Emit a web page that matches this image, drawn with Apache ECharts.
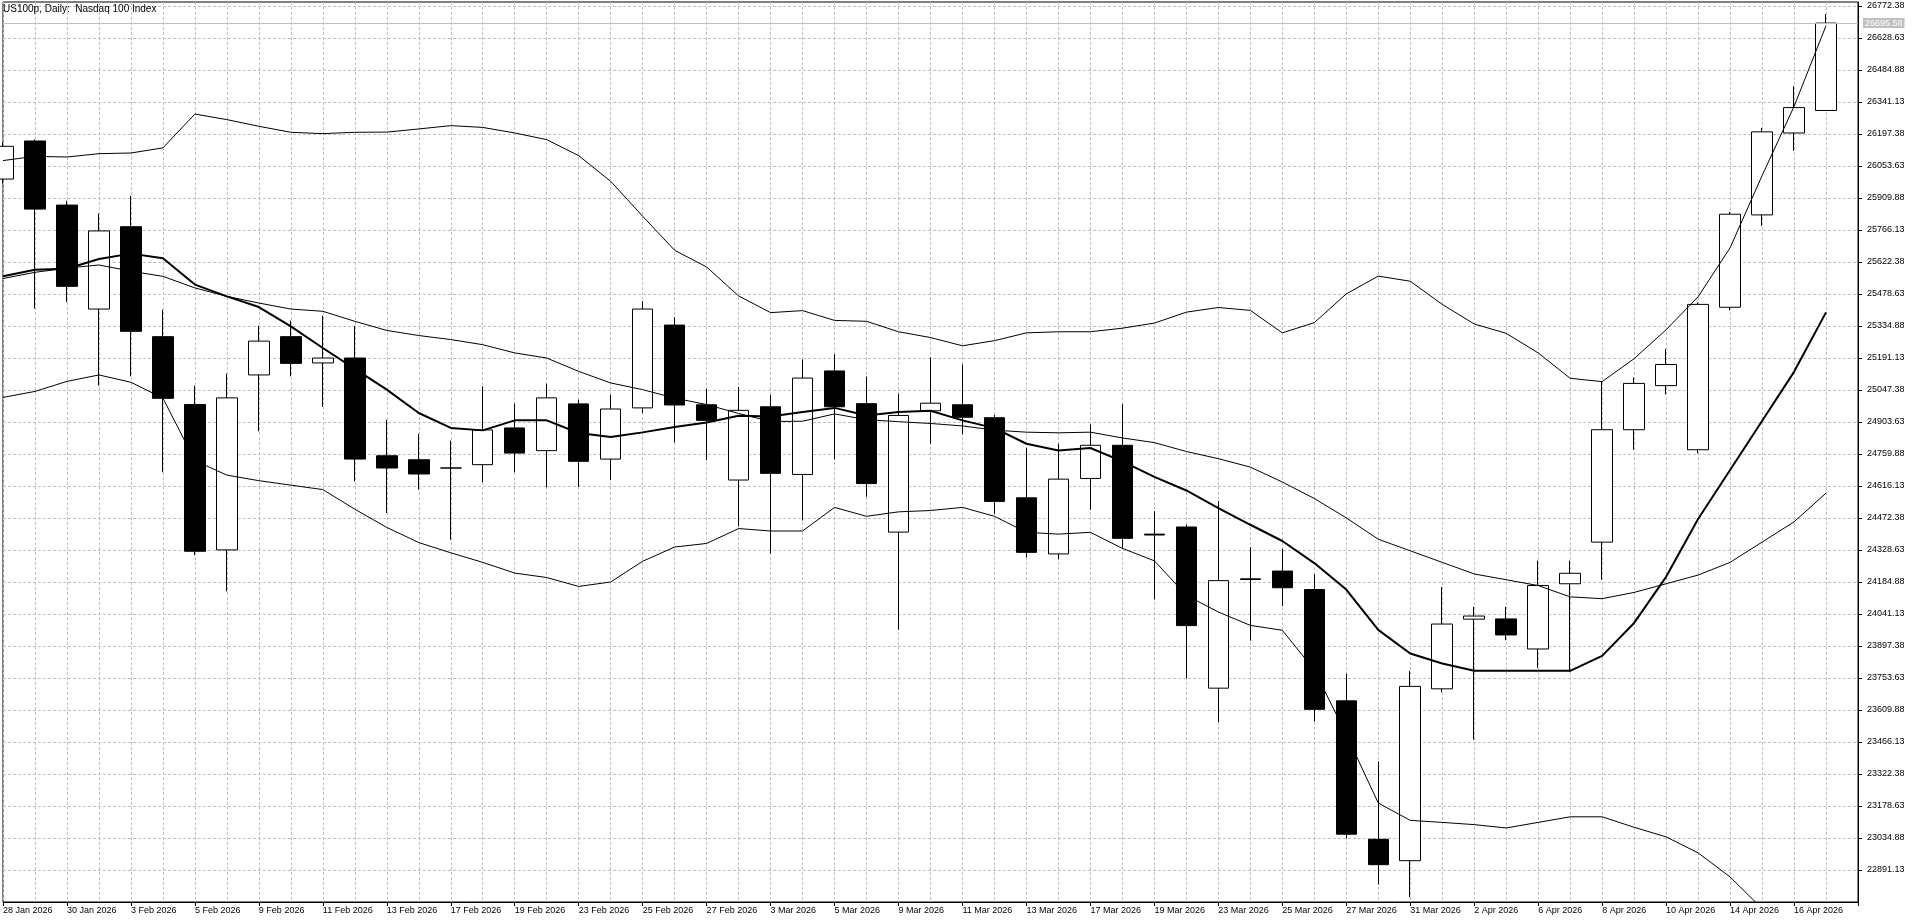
<!DOCTYPE html>
<html>
<head>
<meta charset="utf-8">
<title>US100p, Daily</title>
<style>
  html, body { margin: 0; padding: 0; background: #ffffff; }
  .chart { width: 1920px; height: 923px; }
</style>
</head>
<body>
<div class="chart"></div>
<script src="https://cdn.jsdelivr.net/npm/echarts@6/dist/echarts.min.js"></script>
<script>
// 日线 K 线数据
var dates = [
  '28 Jan 2026', '29 Jan 2026', '30 Jan 2026', '2 Feb 2026', '3 Feb 2026', '4 Feb 2026', '5 Feb 2026', '6 Feb 2026',
  '9 Feb 2026', '10 Feb 2026', '11 Feb 2026', '12 Feb 2026', '13 Feb 2026', '16 Feb 2026', '17 Feb 2026', '18 Feb 2026',
  '19 Feb 2026', '20 Feb 2026', '23 Feb 2026', '24 Feb 2026', '25 Feb 2026', '26 Feb 2026', '27 Feb 2026', '2 Mar 2026',
  '3 Mar 2026', '4 Mar 2026', '5 Mar 2026', '6 Mar 2026', '9 Mar 2026', '10 Mar 2026', '11 Mar 2026', '12 Mar 2026',
  '13 Mar 2026', '16 Mar 2026', '17 Mar 2026', '18 Mar 2026', '19 Mar 2026', '20 Mar 2026', '23 Mar 2026', '24 Mar 2026',
  '25 Mar 2026', '26 Mar 2026', '27 Mar 2026', '30 Mar 2026', '31 Mar 2026', '1 Apr 2026', '2 Apr 2026', '3 Apr 2026',
  '6 Apr 2026', '7 Apr 2026', '8 Apr 2026', '9 Apr 2026', '10 Apr 2026', '13 Apr 2026', '14 Apr 2026', '15 Apr 2026',
  '16 Apr 2026', '17 Apr 2026'
];
var opens = [
  25995, 26166, 25878, 25411, 25781, 25287, 24982, 24329, 25115, 25287, 25169, 25191, 24752, 24734, 24697, 24712,
  24877, 24775, 24985, 24737, 24967, 25339, 24981, 24643, 24972, 24668, 25133, 24986, 24409, 24954, 24981, 24923,
  24563, 24311, 24650, 24799, 24400, 24432, 23708, 24199, 24234, 24151, 23651, 23029, 22933, 23705, 24018, 24019,
  23884, 24177, 24364, 24869, 25067, 24779, 25419, 25834, 26202, 26303
];
var closes = [
  26142, 25860, 25513, 25762, 25311, 25010, 24323, 25012, 25267, 25167, 25191, 24737, 24697, 24670, 24697, 24868,
  24764, 25012, 24727, 24962, 25411, 24980, 24911, 24956, 24673, 25101, 24972, 24627, 24933, 24988, 24925, 24547,
  24318, 24647, 24799, 24381, 24396, 23989, 24191, 24196, 24159, 23613, 23052, 22915, 23716, 23996, 24032, 23947,
  24169, 24224, 24869, 25077, 25162, 25432, 25837, 26207, 26316, 26695.58
];
var lows = [
  25975, 25413, 25443, 25067, 25109, 24678, 24305, 24143, 24862, 25109, 24971, 24637, 24495, 24600, 24375, 24633,
  24678, 24610, 24612, 24642, 24944, 24812, 24732, 24435, 24313, 24461, 24736, 24568, 23970, 24806, 24849, 24491,
  24295, 24287, 24509, 24334, 24107, 23752, 23556, 23921, 24077, 23558, 23034, 22826, 22769, 23690, 23477, 23923,
  23799, 23781, 24195, 24779, 25028, 24763, 25406, 25785, 26122, 26303
];
var highs = [
  26160, 26172, 25898, 25840, 25920, 25408, 25067, 25121, 25336, 25359, 25381, 25335, 24914, 24850, 24820, 25064,
  24986, 25076, 25004, 25026, 25446, 25374, 25053, 25061, 25025, 25185, 25208, 25108, 25030, 25194, 25162, 24935,
  24788, 24806, 24893, 24984, 24503, 24442, 24549, 24341, 24334, 24220, 23773, 23379, 23786, 24162, 24074, 24074,
  24281, 24281, 25085, 25103, 25232, 25440, 25847, 26225, 26412, 26736
];

// 布林带 上/中/下轨 以及粗均线
var bandUpper = [
  26078, 26097, 26094, 26109, 26112, 26135, 26287, 26262, 26232, 26205, 26199, 26205, 26206, 26220, 26235, 26227,
  26202, 26172, 26100, 25985, 25828, 25675, 25600, 25470, 25395, 25404, 25360, 25356, 25309, 25283, 25246, 25269,
  25304, 25309, 25309, 25325, 25348, 25397, 25418, 25405, 25304, 25350, 25479, 25559, 25536, 25432, 25344, 25302,
  25214, 25100, 25085, 25188, 25318, 25466, 25686, 26010, 26321, 26684
];
var bandMiddle = [
  25548, 25576, 25595, 25609, 25581, 25558, 25506, 25468, 25438, 25411, 25401, 25356, 25315, 25292, 25274, 25251,
  25214, 25191, 25131, 25079, 25049, 25011, 24982, 24942, 24906, 24907, 24940, 24914, 24905, 24897, 24886, 24867,
  24858, 24855, 24858, 24832, 24811, 24771, 24739, 24701, 24634, 24560, 24473, 24377, 24325, 24273, 24221, 24195,
  24169, 24118, 24110, 24138, 24177, 24216, 24273, 24364, 24455, 24584
];
var bandLower = [
  25014, 25041, 25086, 25115, 25082, 25011, 24730, 24665, 24640, 24620, 24600, 24512, 24430, 24362, 24316, 24273,
  24225, 24205, 24165, 24185, 24278, 24342, 24358, 24425, 24414, 24414, 24520, 24480, 24500, 24506, 24520, 24480,
  24408, 24400, 24408, 24336, 24280, 24125, 24050, 23990, 23968, 23790, 23500, 23192, 23114, 23105, 23095, 23080,
  23105, 23130, 23130, 23083, 23040, 22968, 22860, 22718, 22590, 22480
];
var maLine = [
  25558, 25588, 25592, 25636, 25660, 25639, 25521, 25468, 25420, 25333, 25236, 25142, 25049, 24944, 24877, 24866,
  24911, 24911, 24854, 24836, 24857, 24881, 24901, 24932, 24928, 24949, 24967, 24933, 24949, 24954, 24911, 24876,
  24806, 24776, 24787, 24727, 24657, 24596, 24517, 24442, 24369, 24270, 24151, 23970, 23864, 23819, 23786, 23786,
  23786, 23786, 23853, 24001, 24208, 24468, 24688, 24908, 25129, 25396
];

// 右侧价格刻度
var priceTicks = [
  22891.13, 23034.88, 23178.63, 23322.38, 23466.13, 23609.88, 23753.63, 23897.38, 24041.13, 24184.88,
  24328.63, 24472.38, 24616.13, 24759.88, 24903.63, 25047.38, 25191.13, 25334.88, 25478.63, 25622.38,
  25766.13, 25909.88, 26053.63, 26197.38, 26341.13, 26484.88, 26628.63, 26772.38
];
var lastPrice = 26695.58;

;(function() {
  var myChart = echarts.init(document.querySelector('.chart'));

  // echarts K线顺序: [open, close, lowest, highest]
  var candles = dates.map(function(d, i) {
    return [opens[i], closes[i], lows[i], highs[i]];
  });
  // 右边多留一个空位
  var cats = dates.concat(['']);

  var font = 'Liberation Sans';
  var gridLine = { color: '#c0c0c0', width: 1, type: [3, 2] };

  function bandSeries(name, data, width) {
    return {
      name: name,
      type: 'line',
      data: data,
      symbol: 'none',
      smooth: false,
      z: 5,
      silent: true,
      lineStyle: { color: '#000000', width: width }
    };
  }

  var option = {
    animation: false,
    backgroundColor: '#ffffff',
    title: {
      text: 'US100p, Daily:  Nasdaq 100 Index',
      left: 3,
      top: 4,
      padding: 0,
      textStyle: { fontFamily: font, fontSize: 10, fontWeight: 'normal', color: '#000000' }
    },
    grid: {
      left: 2,
      top: 2,
      right: 62,
      bottom: 21,
      show: true,
      borderColor: '#000000',
      borderWidth: 1,
      backgroundColor: '#ffffff'
    },
    xAxis: {
      type: 'category',
      data: cats,
      boundaryGap: false,
      axisLine: { show: true, lineStyle: { color: '#000000', width: 1 } },
      axisTick: { show: true, interval: 1, length: 4, inside: false, lineStyle: { color: '#000000' } },
      axisLabel: {
        interval: 1,
        align: 'left',
        margin: 4,
        color: '#000000',
        fontFamily: font,
        fontSize: 9
      },
      splitLine: { show: true, interval: 0, lineStyle: gridLine }
    },
    yAxis: {
      type: 'value',
      position: 'right',
      scale: true,
      min: 22747.38,
      max: 26790.35,
      axisLine: { show: true, lineStyle: { color: '#000000', width: 1 } },
      axisTick: { show: true, length: 4, customValues: priceTicks, lineStyle: { color: '#000000' } },
      axisLabel: {
        customValues: priceTicks,
        margin: 9,
        color: '#000000',
        fontFamily: font,
        fontSize: 9,
        formatter: function(v) { return v.toFixed(2); }
      },
      splitLine: { show: true, lineStyle: gridLine }
    },
    series: [
      {
        name: 'US100p',
        type: 'candlestick',
        data: candles,
        barWidth: 21,
        clip: true,
        z: 3,
        itemStyle: {
          color: '#ffffff',
          color0: '#000000',
          borderColor: '#000000',
          borderColor0: '#000000',
          borderWidth: 1
        },
        markLine: {
          silent: true,
          symbol: ['none', 'none'],
          animation: false,
          lineStyle: { color: '#c0c0c0', type: 'solid', width: 1 },
          label: {
            show: true,
            position: 'end',
            distance: 5,
            formatter: function() { return lastPrice.toFixed(2); },
            backgroundColor: '#c0c0c0',
            color: '#ffffff',
            fontFamily: font,
            fontSize: 9,
            padding: [1, 2, 0, 2]
          },
          data: [{ yAxis: lastPrice }]
        }
      },
      bandSeries('BB upper', bandUpper, 1),
      bandSeries('BB middle', bandMiddle, 1),
      bandSeries('BB lower', bandLower, 1),
      bandSeries('MA', maLine, 2)
    ]
  };

  myChart.setOption(option);
  window.addEventListener('resize', function() {
    myChart.resize();
  });
})();
</script>
</body>
</html>
